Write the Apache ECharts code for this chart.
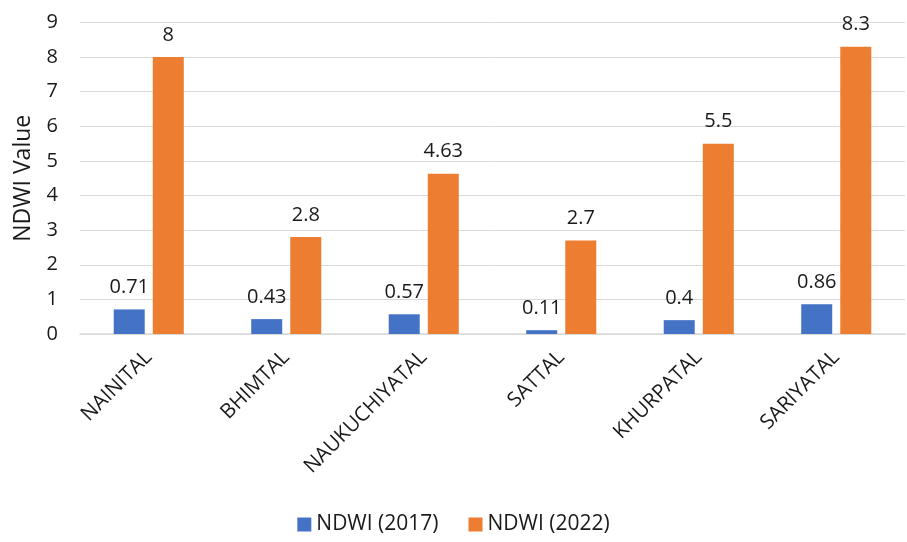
<!DOCTYPE html>
<html><head><meta charset="utf-8">
<script src="https://cdn.jsdelivr.net/npm/echarts@6/dist/echarts.min.js"></script>
<style>html,body{margin:0;padding:0;background:#fff}#c{width:907px;height:542px}</style>
</head><body><div id="c"></div>
<script>
var categories = ["NAINITAL","BHIMTAL","NAUKUCHIYATAL","SATTAL","KHURPATAL","SARIYATAL"];
var ndwi2017 = [0.71,0.43,0.57,0.11,0.4,0.86];
var ndwi2022 = [8,2.8,4.63,2.7,5.5,8.3];
var seriesNames = ["NDWI (2017)","NDWI (2022)"];
var font = "Open Sans";
var chart = echarts.init(document.getElementById('c'));
var lbl = {show:true, position:'top', distance:12, fontSize:20, color:'#1a1a1a', fontFamily:font};
chart.setOption({
  animation:false,
  grid:{left:80,right:2,top:22.5,bottom:208},
  legend:{bottom:2,left:'center',itemWidth:14,itemHeight:14,itemGap:30,icon:'rect',
    textStyle:{fontSize:21,color:'#1a1a1a',fontFamily:font}},
  xAxis:{type:'category',data:categories,
    axisLine:{lineStyle:{color:'#d9d9d9',width:1.5}},axisTick:{show:false},
    axisLabel:{rotate:45,fontSize:20.5,color:'#1a1a1a',fontFamily:font,margin:20,interval:0}},
  yAxis:{type:'value',min:0,max:9,interval:1,name:'NDWI Value',nameLocation:'middle',nameGap:45,
    nameTextStyle:{fontSize:23,color:'#1a1a1a',fontFamily:font},
    axisLabel:{fontSize:20,color:'#1a1a1a',fontFamily:font,margin:22},
    splitLine:{lineStyle:{color:'#d9d9d9'}},axisLine:{show:false}},
  series:[
    {name:seriesNames[0],type:'bar',data:ndwi2017,barWidth:31,barGap:'26%',itemStyle:{color:'#4472C4'},label:lbl},
    {name:seriesNames[1],type:'bar',data:ndwi2022,barWidth:31,itemStyle:{color:'#ED7D31'},label:lbl}
  ]
});
</script></body></html>
